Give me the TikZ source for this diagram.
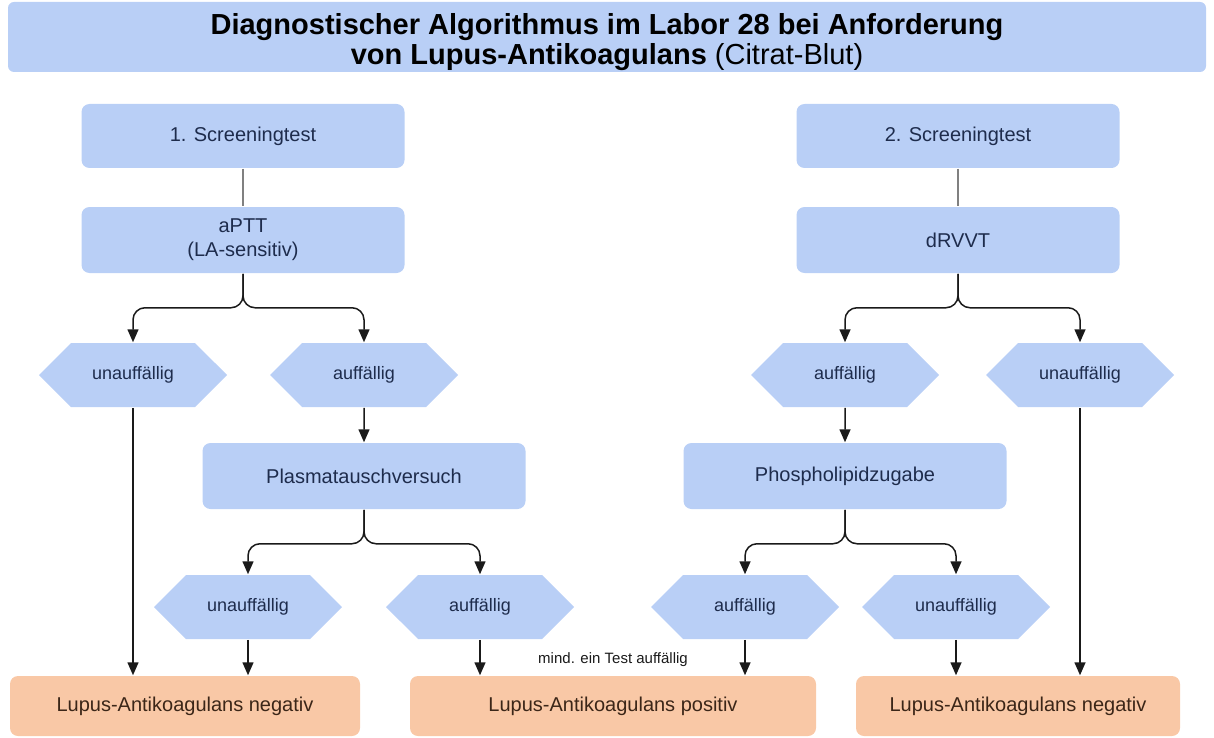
\documentclass[tikz,border=0pt]{standalone}
\usepackage{fontspec}
\setmainfont{Liberation Sans}
\usetikzlibrary{shapes.symbols,arrows.meta}
\definecolor{boxblue}{HTML}{B9CFF6}
\definecolor{boxorange}{HTML}{F9C8A6}
\definecolor{txtblue}{HTML}{1E2C4C}
\definecolor{txtbrown}{HTML}{3B2618}
\definecolor{linegray}{HTML}{1A1A1A}

\begin{document}
\begin{tikzpicture}[x=1pt, y=-1pt, line width=1.5pt,
	box/.style = {fill=boxblue, rounded corners=8pt, minimum width=323pt, minimum height=64pt, inner sep=0pt, align=center, text=txtblue, font=\fontsize{20}{24}\selectfont},
	res/.style = {box, fill=boxorange, text=txtbrown, minimum height=60pt},
	hex/.style = {signal, signal to=west and east, signal pointer angle=90, fill=boxblue, minimum width=188pt, minimum height=64pt, inner sep=0pt, text=txtblue, font=\fontsize{18}{20}\selectfont},
	arr/.style = {draw=linegray, -{Triangle[length=13pt,width=11pt]}},
	fork/.style = {arr, rounded corners=12pt}]

	\useasboundingbox (0,0) rectangle (1214,738);

	\node[fill=boxblue, rounded corners=6pt, minimum width=1198pt, minimum height=70pt] (title) at (607,37) {};
	\node[align=center, font=\fontsize{29}{30}\selectfont\bfseries] (titletext) at (607,42) {Diagnostischer Algorithmus im Labor 28 bei Anforderung\\von Lupus-Antikoagulans {\mdseries(Citrat-Blut)}};

	% linker Zweig
	\node[box] (scr1) at (243,136) {1. Screeningtest};
	\node[box, minimum height=66pt] (aptt) at (243,240) {aPTT\\(LA-sensitiv)};
	\node[hex] (un1) at (133,375) {unauffällig};
	\node[hex] (au1) at (364,375) {auffällig};
	\node[box, minimum height=66pt] (plasma) at (364,476) {Plasmatauschversuch};
	\node[hex] (un2) at (248,607) {unauffällig};
	\node[hex] (au2) at (480,607) {auffällig};

	% rechter Zweig
	\node[box] (scr2) at (958,136) {2. Screeningtest};
	\node[box, minimum height=66pt] (drvvt) at (958,240) {dRVVT};
	\node[hex] (au3) at (845,375) {auffällig};
	\node[hex] (un3) at (1080,375) {unauffällig};
	\node[box, minimum height=66pt] (phospho) at (845,476) {Phospholipidzugabe};
	\node[hex] (au4) at (745,607) {auffällig};
	\node[hex] (un4) at (956,607) {unauffällig};

	% Ergebnisse
	\node[res, minimum width=350pt] (neg1) at (185,706) {Lupus-Antikoagulans negativ};
	\node[res, minimum width=406pt] (pos) at (613,706) {Lupus-Antikoagulans positiv};
	\node[res, minimum width=324pt] (neg2) at (1018,706) {Lupus-Antikoagulans negativ};
	\node[font=\fontsize{15}{17}\selectfont, text=linegray] (note) at (613,660) {mind. ein Test auffällig};

	\draw[draw=gray] (scr1) -- (aptt);
	\draw[draw=gray] (scr2) -- (drvvt);

	\draw[fork] (aptt.south) -- ++(0,34) -| (un1.north);
	\draw[fork] (aptt.south) -- ++(0,34) -| (au1.north);
	\draw[arr] (un1.south) -- (un1.south |- neg1.north);
	\draw[arr] (au1) -- (plasma);
	\draw[fork] (plasma.south) -- ++(0,34) -| (un2.north);
	\draw[fork] (plasma.south) -- ++(0,34) -| (au2.north);
	\draw[arr] (un2.south) -- (un2.south |- neg1.north);
	\draw[arr] (au2.south) -- (au2.south |- pos.north);

	\draw[fork] (drvvt.south) -- ++(0,34) -| (au3.north);
	\draw[fork] (drvvt.south) -- ++(0,34) -| (un3.north);
	\draw[arr] (un3.south) -- (un3.south |- neg2.north);
	\draw[arr] (au3) -- (phospho);
	\draw[fork] (phospho.south) -- ++(0,34) -| (au4.north);
	\draw[fork] (phospho.south) -- ++(0,34) -| (un4.north);
	\draw[arr] (au4.south) -- (au4.south |- pos.north);
	\draw[arr] (un4.south) -- (un4.south |- neg2.north);
\end{tikzpicture}
\end{document}
